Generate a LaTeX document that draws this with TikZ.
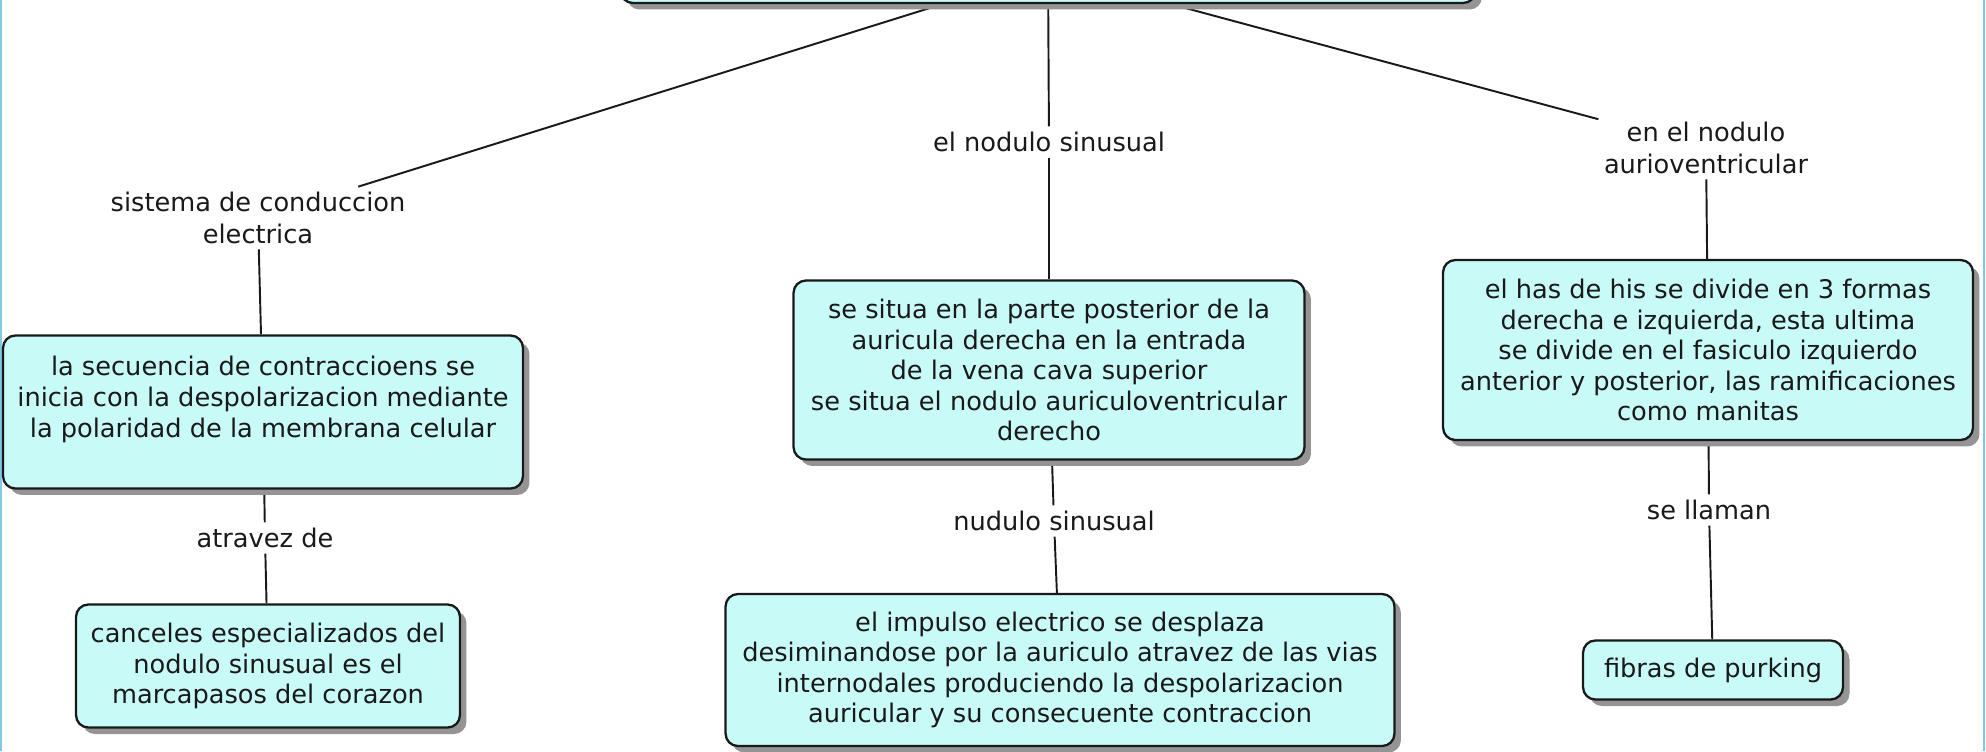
\documentclass[tikz,border=0pt]{standalone}
\usepackage{fontspec}
\setmainfont{DejaVu Sans}
\usepackage{tikz}
\usetikzlibrary{positioning}
\usetikzlibrary{shadows}
\usetikzlibrary{backgrounds}
\definecolor{boxfill}{RGB}{200,250,248}
\definecolor{edgeblue}{RGB}{130,200,228}
\tikzset{concept/.style={rectangle,rounded corners=7pt,draw=black!90,line width=1.3pt,fill=boxfill,align=center,text=black!90,font=\fontsize{14.6}{17.4}\selectfont,drop shadow={shadow xshift=0.13cm,shadow yshift=-0.13cm,fill=black!42,opacity=1}}}
\tikzset{linkword/.style={align=center,text=black!90,font=\fontsize{14.6}{18}\selectfont,inner sep=3pt}}
\tikzset{link/.style={line width=1.1pt,black!90}}

\begin{document}
\begin{tikzpicture}[x=0.02cm,y=-0.02cm]
\useasboundingbox (0,0) rectangle (1986,751);
\clip (0,0) rectangle (1986,751);

\node[concept,minimum width=17.1cm,minimum height=1.28cm] (top) at (1048,-29) {};

% left column
\node[linkword] (lL) at (258,218) {sistema de conduccion\\electrica};
\node[concept,minimum width=10.4cm,minimum height=3.06cm] (bL1) at (263,412) {la secuencia de contraccioens se\\inicia con la despolarizacion mediante\\la polaridad de la membrana celular\\~};
\node[linkword] (lL2) at (265,538) {atravez de};
\node[concept,minimum width=7.68cm,minimum height=2.46cm] (bL2) at (268,666) {canceles especializados del\\nodulo sinusual es el\\marcapasos del corazon};

% middle column
\node[linkword] (lM) at (1049,142) {el nodulo sinusual};
\node[concept,minimum width=10.22cm,minimum height=3.58cm] (bM1) at (1049,370) {se situa en la parte posterior de la\\auricula derecha en la entrada\\de la vena cava superior\\se situa el nodulo auriculoventricular\\derecho};
\node[linkword] (lM2) at (1054,521) {nudulo sinusual};
\node[concept,minimum width=13.38cm,minimum height=3.04cm] (bM2) at (1060,670) {el impulso electrico se desplaza\\desiminandose por la auriculo atravez de las vias\\internodales produciendo la despolarizacion\\auricular y su consecuente contraccion};

% right column
\node[linkword] (lR) at (1706,148) {en el nodulo\\aurioventricular};
\node[concept,minimum width=10.6cm,minimum height=3.6cm] (bR1) at (1708,350) {el has de his se divide en 3 formas\\derecha e izquierda, esta ultima\\se divide en el fasiculo izquierdo\\anterior y posterior, las ramificaciones\\como manitas};
\node[linkword] (lR2) at (1709,510) {se llaman};
\node[concept,minimum width=5.2cm,minimum height=1.18cm] (bR2) at (1713,670) {fibras de purking};

\begin{pgfonlayer}{background}
\draw[edgeblue,line width=1.5pt] (1,0) -- (1,751);
\draw[edgeblue,line width=1pt] (1984,0) -- (1984,751);
\draw[link] (top) -- (lL);
\draw[link] (top) -- (lM);
\draw[link] (top) -- (lR);
\draw[link] (lL) -- (bL1);
\draw[link] (bL1) -- (lL2);
\draw[link] (lL2) -- (bL2);
\draw[link] (lM) -- (bM1);
\draw[link] (bM1) -- (lM2);
\draw[link] (lM2) -- (bM2);
\draw[link] (lR) -- (bR1);
\draw[link] (bR1) -- (lR2);
\draw[link] (lR2) -- (bR2);
\end{pgfonlayer}
\end{tikzpicture}
\end{document}
